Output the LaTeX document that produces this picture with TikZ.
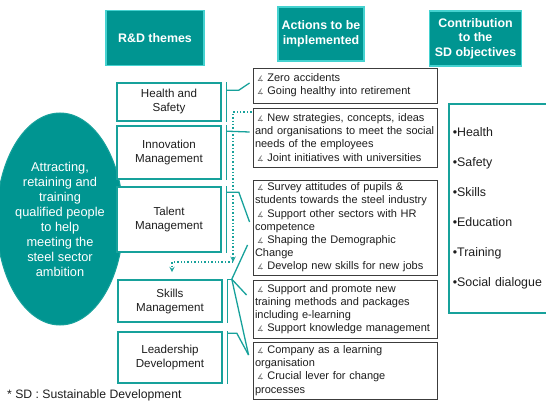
\documentclass[tikz,border=0pt]{standalone}
\usepackage{fontspec}
\setmainfont{Liberation Sans}
\newfontfamily\symfont{DejaVu Sans}
\usepackage{xcolor}
\usepackage{tikz}
\usetikzlibrary{shapes,arrows,positioning,fit,calc}

\definecolor{tealfill}{HTML}{009591}
\definecolor{tealline}{HTML}{17A19B}
\definecolor{cyanedge}{HTML}{45D2D0}
\definecolor{boxgray}{HTML}{3C3C3C}
\definecolor{inkdark}{HTML}{1E1E1E}

% small bullet of the action lists
\newcommand{\ab}{\hspace*{2pt}{\symfont\fontsize{7.5}{7.5}\selectfont\color{black!60}∡}\ }

\begin{document}
\begin{tikzpicture}[x=1pt, y=-1pt,
    header/.style={rectangle, draw=cyanedge, line width=1.5pt, fill=tealfill, text=white, font=\fontsize{12.4}{14.5}\selectfont\bfseries, align=center, inner sep=0pt},
    theme/.style={rectangle, draw=tealline, line width=1.6pt, fill=white, text=inkdark, font=\fontsize{11.6}{14}\selectfont, align=center, inner sep=0pt, minimum width=104pt},
    action/.style={rectangle, draw=boxgray, line width=0.9pt, fill=white, text=inkdark, font=\fontsize{11}{13.2}\selectfont, text width=180pt, align=left, inner sep=2pt},
    link/.style={draw=tealline, line width=1.3pt},
    dotlink/.style={->, >=stealth, draw=tealline, line width=1.4pt, dotted}]

    \useasboundingbox (0,0) rectangle (546,401);

    % Column headers
    \node[header, minimum width=98pt, minimum height=55pt] (hdthemes) at (155,38) {R\&D themes};
    \node[header, minimum width=86pt, minimum height=54pt] (hdactions) at (321,34) {Actions to be\\implemented};
    \node[header, minimum width=92pt, minimum height=55pt] (hdcontrib) at (475.5,38.5) {Contribution\\to the\\SD objectives};

    % Ambition
    \node[ellipse, fill=tealfill, draw=tealline, line width=1pt, minimum width=105pt, minimum height=212pt, inner sep=0pt, text=white, align=center, font=\fontsize{12.8}{15}\selectfont] (goal) at (60,219) {Attracting,\\retaining and\\training\\qualified people\\to help\\meeting the\\steel sector\\ambition};

    % R&D themes
    \node[theme, minimum height=38pt] (thhealth) at (169,102) {Health and\\Safety};
    \node[theme, minimum height=53pt] (thinnov) at (169,152.5) {Innovation\\Management};
    \node[theme, minimum height=65pt] (thtalent) at (169,219.5) {Talent\\Management};
    \node[theme, minimum height=42pt] (thskills) at (170,301) {Skills\\Management};
    \node[theme, minimum height=51pt] (thleader) at (170,357.5) {Leadership\\Development};

    % Actions
    \node[action, minimum height=35pt] (acthealth) at (345,85.5) {\ab Zero accidents\\ \ab Going healthy into retirement};
    \node[action, minimum height=59pt] (actinnov) at (345,137.5) {\ab New strategies, concepts, ideas\\and organisations to meet the social\\needs of the employees\\ \ab Joint initiatives with universities};
    \node[action, minimum height=95pt] (acttalent) at (345,227.5) {\ab Survey attitudes of pupils \&\\students towards the steel industry\\ \ab Support other sectors with HR\\competence\\ \ab Shaping the Demographic\\Change\\ \ab Develop new skills for new jobs};
    \node[action, minimum height=58pt] (actskills) at (345,309) {\ab Support and promote new\\training methods and packages\\including e-learning\\ \ab Support knowledge management};
    \node[action, minimum height=57pt] (actleader) at (345,370.5) {\ab Company as a learning\\organisation\\ \ab Crucial lever for change\\processes};

    % SD objectives
    \node[rectangle, draw=tealline, line width=1.6pt, fill=white, anchor=north west, minimum width=102pt, minimum height=209pt, text width=94pt, align=left, inner sep=3pt, text=inkdark, font=\fontsize{12.4}{30}\selectfont] (sdgoals) at (448,103) {•Health\\•Safety\\•Skills\\•Education\\•Training\\•Social dialogue};

    % Footnote
    \node[anchor=west, inner sep=0pt, text=inkdark, font=\fontsize{12.2}{13}\selectfont] (footnote) at (7,395) {* SD : Sustainable Development};

    % Brackets and links
    \foreach \th in {thhealth, thinnov, thtalent, thskills, thleader}
        \draw[link] ([xshift=5pt]\th.north east) -- ([xshift=5pt]\th.south east);

    \draw[link] ([xshift=5pt,yshift=-8pt]thhealth.north east) -- ++(12,0) -- ([xshift=-3pt,yshift=2.5pt]acthealth.west);
    \draw[link] ([xshift=5pt,yshift=-6pt]thinnov.north east) -- ([xshift=-3pt,yshift=5.5pt]actinnov.west);
    \draw[link] ([xshift=5pt,yshift=-6pt]thtalent.north east) -- ++(12,0) -- ([xshift=-3pt,yshift=5.5pt]acttalent.west);

    \coordinate (skfork) at ([xshift=9pt]thskills.north east);
    \draw[link] ([xshift=5pt]thskills.north east) -- (skfork);
    \draw[link] (skfork) -- ([xshift=-5pt,yshift=-17.5pt]acttalent.west);
    \draw[link] (skfork) -- ([xshift=-6pt,yshift=14pt]actskills.west);
    \draw[link] (skfork) -- ([xshift=-4pt,yshift=15.5pt]actleader.west);
    \draw[link] ([xshift=5pt,yshift=-2pt]thleader.north east) -- ++(9,0) -- ([xshift=-4pt,yshift=15.5pt]actleader.west);

    % Dotted feedback
    \coordinate (dotturn) at (233,262);
    \draw[dotlink] ([xshift=-1pt,yshift=25.5pt]actinnov.west) -| (dotturn);
    \draw[dotlink] (dotturn) -| ([xshift=2pt,yshift=7pt]thskills.north);

\end{tikzpicture}
\end{document}
